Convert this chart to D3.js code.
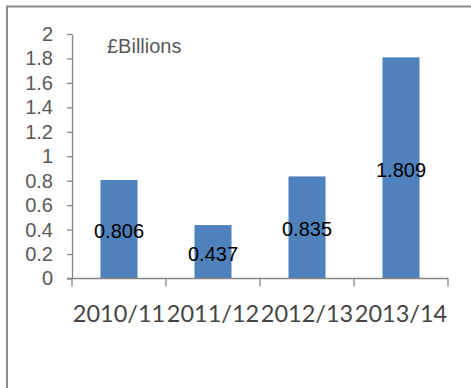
<!DOCTYPE html>
<html>
<head>
<meta charset="utf-8">
<script src="https://cdn.jsdelivr.net/npm/d3@7"></script>
<style>
  html, body { margin: 0; padding: 0; background: #fff; }
  svg { display: block; }
</style>
</head>
<body>
<svg id="chart" width="471" height="388"></svg>
<script>
// Annual spend, £ billions
const categories = ["2010/11", "2011/12", "2012/13", "2013/14"];
const values = [0.806, 0.437, 0.835, 1.809];
const yTicks = [0, 0.2, 0.4, 0.6, 0.8, 1, 1.2, 1.4, 1.6, 1.8, 2];
const unitLabel = "£Billions";

const svg = d3.select("#chart");
const axisColor = "#868686";
const textColor = "#595959";

// Outer frame: top and left edges only
svg.append("path")
  .attr("d", "M7,388 V6.5 H471")
  .attr("fill", "none")
  .attr("stroke", "#8c8c8c")
  .attr("stroke-width", 2);

const x = d3.scaleBand()
  .domain(categories)
  .range([72, 448])
  .paddingInner(0.606)
  .paddingOuter(0.303);

const y = d3.scaleLinear()
  .domain([0, 2])
  .range([278.5, 34]);

// Bars
svg.append("g")
  .selectAll("rect")
  .data(values)
  .join("rect")
  .attr("x", (d, i) => x(categories[i]))
  .attr("y", d => y(d))
  .attr("width", x.bandwidth())
  .attr("height", d => y(0) - y(d))
  .attr("fill", "#4f81bd");

// Y axis
const yAxis = svg.append("g")
  .attr("transform", "translate(72,0)")
  .call(d3.axisLeft(y).tickValues(yTicks).tickFormat(d3.format("")).tickSize(5).tickSizeOuter(0));
yAxis.select(".domain").attr("stroke", axisColor).attr("stroke-width", 1.3);
yAxis.selectAll(".tick line").attr("stroke", axisColor).attr("stroke-width", 1.3);
yAxis.selectAll(".tick text")
  .attr("x", -19)
  .attr("fill", textColor)
  .style("font-family", "'Liberation Sans', Arial, sans-serif")
  .style("font-size", "20px");

// X axis with ticks at category boundaries
const xAxisG = svg.append("g").attr("transform", `translate(0,${y(0)})`);
xAxisG.append("line")
  .attr("x1", 67).attr("x2", 448)
  .attr("stroke", axisColor).attr("stroke-width", 1.3);
const edges = d3.range(categories.length + 1).map(i => x.range()[0] + i * x.step());
xAxisG.selectAll("line.tk")
  .data(edges)
  .join("line")
  .attr("class", "tk")
  .attr("x1", d => d).attr("x2", d => d)
  .attr("y1", 0).attr("y2", 8)
  .attr("stroke", axisColor).attr("stroke-width", 1.3);

svg.append("g")
  .selectAll("text")
  .data(categories)
  .join("text")
  .attr("x", d => x(d) + x.bandwidth() / 2)
  .attr("y", 322)
  .attr("text-anchor", "middle")
  .attr("fill", "#454545")
  .style("font-family", "Lato, 'Open Sans', sans-serif")
  .style("font-size", "23.5px")
  .text(d => d);

// Value labels centred on each bar
svg.append("g")
  .selectAll("text")
  .data(values)
  .join("text")
  .attr("x", (d, i) => x(categories[i]) + x.bandwidth() / 2)
  .attr("y", d => (y(d) + y(0)) / 2 + 9)
  .attr("text-anchor", "middle")
  .attr("fill", "#000")
  .style("font-family", "'Liberation Sans', Arial, sans-serif")
  .style("font-size", "20px")
  .text(d => d3.format(".3f")(d));

// Unit label
svg.append("text")
  .attr("x", 107)
  .attr("y", 52.5)
  .attr("fill", textColor)
  .style("font-family", "'Liberation Sans', Arial, sans-serif")
  .style("font-size", "20px")
  .text(unitLabel);
</script>
</body>
</html>
